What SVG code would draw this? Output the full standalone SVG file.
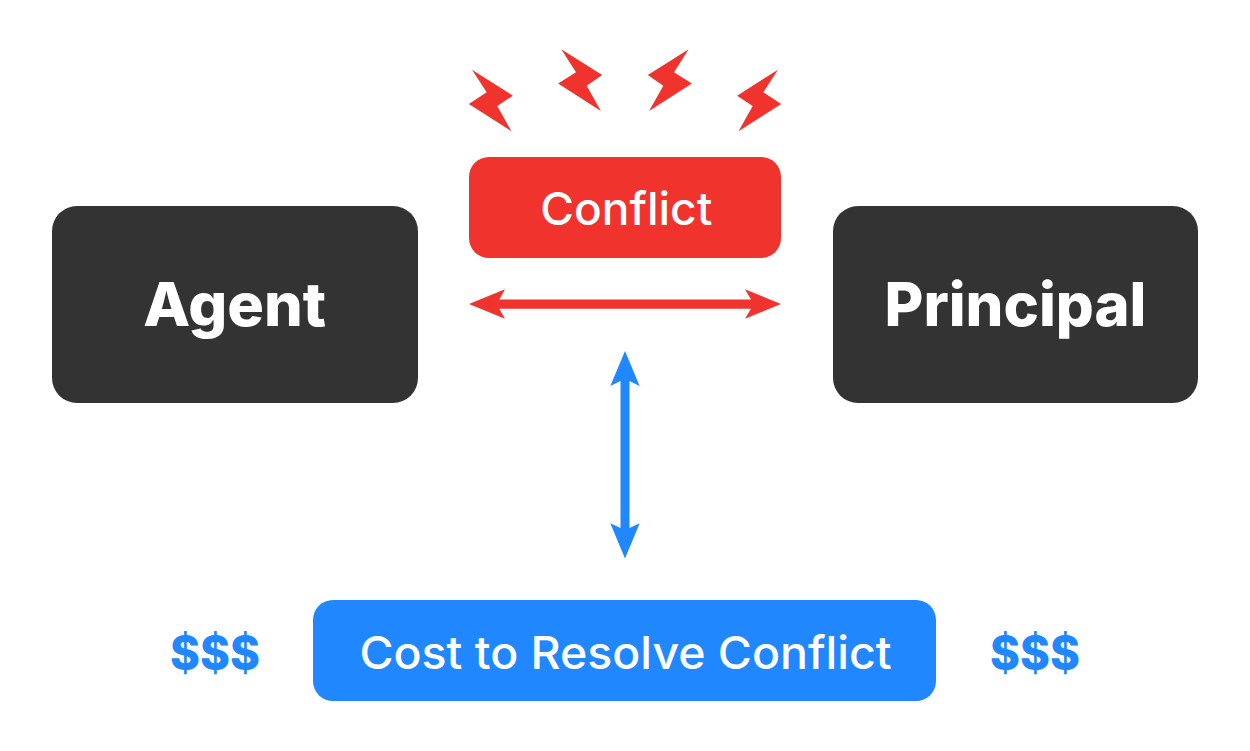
<svg xmlns="http://www.w3.org/2000/svg" width="1250" height="751" viewBox="0 0 1250 751">
<style>
text{font-family:"Inter","Liberation Sans",sans-serif;text-anchor:middle}
.w{fill:#fff}
.big{font-size:60px;font-weight:800}
.mid{font-size:45px;font-weight:500}
.usd{font-size:48px;font-weight:800;fill:#2087ff}
.dark{fill:#333}
.red{fill:#f0332d}
.blue{fill:#2087ff}
</style>
<rect width="1250" height="751" fill="#fff"/>
<g id="agent"><rect class="dark" x="52" y="206" width="366" height="197" rx="25"/><text class="w big" x="234.700" y="326" textLength="183" lengthAdjust="spacingAndGlyphs">Agent</text></g>
<g id="principal"><rect class="dark" x="833" y="206" width="365" height="197" rx="25"/><text class="w big" x="1015.500" y="326" textLength="262" lengthAdjust="spacingAndGlyphs">Principal</text></g>
<g id="conflict"><rect class="red" x="469" y="157" width="312" height="101" rx="20"/><text class="w mid" x="626.300" y="224.500" textLength="172" lengthAdjust="spacingAndGlyphs">Conflict</text></g>
<g id="cost"><rect class="blue" x="313" y="600" width="623" height="101" rx="20"/><text class="w mid" x="625.500" y="669" textLength="532" lengthAdjust="spacingAndGlyphs">Cost to Resolve Conflict</text></g>
<g id="bolts" class="red">
<polygon points="472,69.700 512.900,95.700 497.300,106 511.500,131.300 468.800,104 486.700,92.300"/>
<polygon points="561.300,49.200 602.200,75 586.700,85.700 600.900,111 558.100,83.400 576,72.300"/>
<polygon points="688.700,49.200 647.800,75 663.300,85.700 649.100,111 691.900,83.400 674,72.300"/>
<polygon points="778,69.700 737.100,95.700 752.700,106 738.500,131.300 781.200,104 763.300,92.300"/>
</g>
<g id="dollars-left"><text class="usd" x="215" y="669.500" textLength="90" lengthAdjust="spacingAndGlyphs">$$$</text></g>
<g id="dollars-right"><text class="usd" x="1035" y="669.500" textLength="90" lengthAdjust="spacingAndGlyphs">$$$</text></g>
<g id="connectors">
<polygon class="red" points="469,304 505,289.300 499.300,299.500 751,299.500 745,289.300 781,304 745,318.700 751,308.700 499.300,308.700 505,318.700"/>
<polygon class="blue" points="625,351 639.700,386 629.500,381 629.500,528 639.700,523.300 625,558.500 610.300,523.300 620.500,528 620.500,381 610.300,386"/>
</g>
</svg>
